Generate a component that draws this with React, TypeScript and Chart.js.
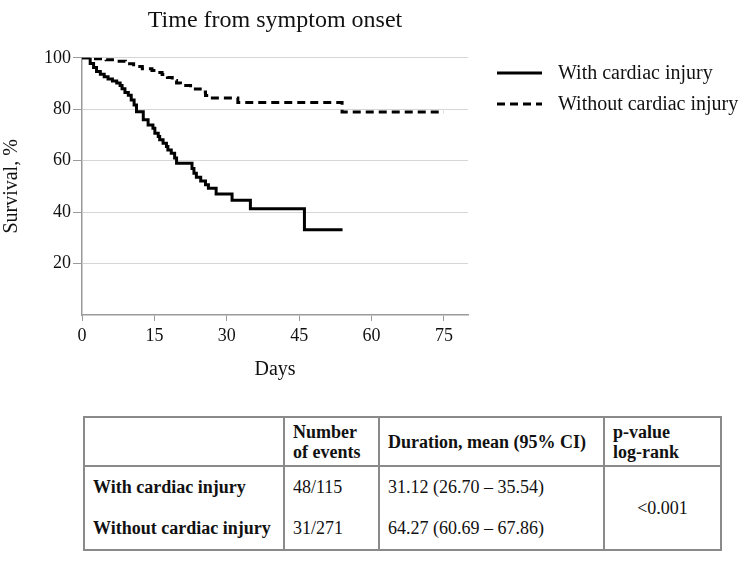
import React, { useEffect, useRef } from "react";
import { Chart, registerables } from "chart.js";

Chart.register(...registerables);

const FONT = "'Liberation Serif', 'Times New Roman', serif";

const titleText = "Time from symptom onset";
const xAxisTitle = "Days";
const yAxisTitle = "Survival, %";
const xTickValues = [0, 15, 30, 45, 60, 75];
const yTickValues = [20, 40, 60, 80, 100];

const seriesLabels = ["With cardiac injury", "Without cardiac injury"];

const withInjuryDays = [
  0, 1.7, 2.4, 3.0, 3.8, 4.6, 5.4, 6.3, 7.2, 7.9, 8.3, 8.9, 9.6, 10.2, 10.8, 11.3,
  12.7, 13.7, 14.7, 15.1, 15.8, 16.1, 16.8, 17.5, 17.8, 18.5, 19.2, 19.6, 22.8, 23.2,
  23.7, 24.6, 25.6, 26.2, 27.8, 31.1, 34.9, 46.1, 54.0,
];
const withInjurySurvival = [
  100, 97.8, 96.2, 94.7, 93.6, 92.6, 91.8, 91.0, 90.2, 89.2, 88.0, 86.5, 85.4, 83.6, 81.6, 79.0,
  75.9, 73.9, 72.6, 70.7, 69.4, 68.1, 66.8, 65.5, 64.2, 62.9, 61.0, 59.0, 57.0, 55.1,
  53.6, 52.1, 50.6, 49.3, 47.0, 44.6, 41.3, 33.1, 33.1,
];

const withoutInjuryDays = [
  0, 2.0, 5.0, 7.0, 9.0, 10.7, 12.5, 14.5, 15.5, 16.6, 17.7, 18.7, 19.6, 20.4, 22.5,
  24.5, 25.6, 26.5, 32.3, 53.9, 75.0,
];
const withoutInjurySurvival = [
  100, 99.6, 99.2, 98.7, 97.7, 96.6, 95.7, 95.1, 94.3, 93.5, 92.3, 91.2, 90.2, 89.2, 87.9,
  86.7, 85.3, 84.4, 82.6, 78.9, 78.9,
];

const tableHeaderLines = [[""], ["Number", "of events"], ["Duration, mean (95% CI)"], ["p-value", "log-rank"]];
const tableRowLabels = ["With cardiac injury", "Without cardiac injury"];
const tableEvents = ["48/115", "31/271"];
const tableDurations = ["31.12 (26.70 – 35.54)", "64.27 (60.69 – 67.86)"];
const tablePValue = "<0.001";

const legendPlugin = {
  id: "kmLegend",
  afterDraw(chart: any) {
    const ctx = chart.ctx;
    const area = chart.chartArea;
    ctx.save();
    chart.data.datasets.forEach((ds: any, i: number) => {
      const y = 73 + i * 31;
      const x0 = area.right + 29;
      ctx.beginPath();
      ctx.setLineDash(ds.borderDash || []);
      ctx.lineWidth = ds.borderWidth;
      ctx.strokeStyle = ds.borderColor;
      ctx.moveTo(x0, y);
      ctx.lineTo(x0 + 45, y);
      ctx.stroke();
      ctx.setLineDash([]);
      ctx.fillStyle = "#111";
      ctx.font = `20px ${FONT}`;
      ctx.textBaseline = "middle";
      ctx.textAlign = "left";
      ctx.fillText(ds.label, x0 + 61, y + 1);
    });
    ctx.restore();
  },
};

function toPoints(xs: number[], ys: number[]) {
  return xs.map((x, i) => ({ x, y: ys[i] }));
}

export default function App() {
  const canvasRef = useRef<HTMLCanvasElement | null>(null);

  useEffect(() => {
    if (!canvasRef.current) return;
    const axisColor = "#9a9a9a";
    const chart = new Chart(canvasRef.current, {
      type: "line",
      data: {
        datasets: [
          {
            label: seriesLabels[0],
            data: toPoints(withInjuryDays, withInjurySurvival),
            borderColor: "#000",
            borderWidth: 3,
            pointRadius: 0,
            fill: false,
            stepped: "before",
          },
          {
            label: seriesLabels[1],
            data: toPoints(withoutInjuryDays, withoutInjurySurvival),
            borderColor: "#000",
            borderWidth: 3,
            borderDash: [8, 5],
            pointRadius: 0,
            fill: false,
            stepped: "before",
          },
        ],
      },
      options: {
        animation: false,
        responsive: true,
        maintainAspectRatio: false,
        layout: { padding: { left: 0, right: 281, top: 0, bottom: 10 } },
        plugins: {
          legend: { display: false },
          tooltip: { enabled: false },
          title: {
            display: true,
            text: titleText,
            fullSize: false,
            color: "#111",
            font: { family: FONT, size: 24, weight: "normal" },
            padding: { top: 6, bottom: 23 },
          },
        },
        scales: {
          x: {
            type: "linear",
            min: 0,
            max: 80,
            afterBuildTicks: (s: any) => {
              s.ticks = xTickValues.map((v) => ({ value: v }));
            },
            afterFit: (s: any) => {
              s.height = 75;
            },
            border: { color: axisColor, width: 1.5 },
            grid: { drawOnChartArea: false, drawTicks: true, tickLength: 6, tickColor: axisColor },
            ticks: { color: "#111", font: { family: FONT, size: 18 }, padding: 4, maxRotation: 0 },
            title: {
              display: true,
              text: xAxisTitle,
              color: "#111",
              font: { family: FONT, size: 20 },
              padding: { top: 0, bottom: 8 },
            },
          },
          y: {
            type: "linear",
            min: 0,
            max: 100,
            afterBuildTicks: (s: any) => {
              s.ticks = yTickValues.map((v) => ({ value: v }));
            },
            afterFit: (s: any) => {
              s.width = 82;
            },
            border: { color: axisColor, width: 1.5 },
            grid: { color: "#d6d6d6", lineWidth: 1, drawTicks: true, tickLength: 9, tickColor: axisColor },
            ticks: { color: "#111", font: { family: FONT, size: 18 }, padding: 2 },
            title: {
              display: true,
              text: yAxisTitle,
              color: "#111",
              font: { family: FONT, size: 20 },
              padding: { top: 0, bottom: 0 },
            },
          },
        },
      },
      plugins: [legendPlugin],
    });
    return () => chart.destroy();
  }, []);

  const border = "2px solid #8a8a8a";
  const cellBase: React.CSSProperties = {
    borderLeft: border,
    borderRight: border,
    padding: "0 8px",
    textAlign: "left",
    verticalAlign: "middle",
    whiteSpace: "nowrap",
  };
  const colWidths = [200, 95, 225, 117];

  return (
    <div style={{ position: "absolute", left: 0, top: 0, width: 749, height: 561, background: "#fff" }}>
      <div style={{ position: "absolute", left: 0, top: 0, width: 749, height: 400 }}>
        <canvas ref={canvasRef} />
      </div>
      <table
        style={{
          position: "absolute",
          left: 83,
          top: 416,
          width: 637,
          borderCollapse: "collapse",
          tableLayout: "fixed",
          fontFamily: FONT,
          fontSize: 18,
          color: "#111",
          border,
        }}
      >
        <colgroup>
          {colWidths.map((w, i) => (
            <col key={i} style={{ width: w }} />
          ))}
        </colgroup>
        <thead>
          <tr style={{ height: 49 }}>
            {tableHeaderLines.map((lines, i) => (
              <th key={i} style={{ ...cellBase, border, fontWeight: "bold", lineHeight: "20px" }}>
                {lines.map((l, j) => (
                  <React.Fragment key={j}>
                    {j > 0 && <br />}
                    {l}
                  </React.Fragment>
                ))}
              </th>
            ))}
          </tr>
        </thead>
        <tbody>
          {tableRowLabels.map((label, r) => (
            <tr key={r} style={{ height: 42 }}>
              <td style={{ ...cellBase, fontWeight: "bold", borderBottom: r === 1 ? border : "none" }}>{label}</td>
              <td style={{ ...cellBase, borderBottom: r === 1 ? border : "none" }}>{tableEvents[r]}</td>
              <td style={{ ...cellBase, borderBottom: r === 1 ? border : "none" }}>{tableDurations[r]}</td>
              {r === 0 && (
                <td rowSpan={2} style={{ ...cellBase, textAlign: "center", borderBottom: border }}>
                  {tablePValue}
                </td>
              )}
            </tr>
          ))}
        </tbody>
      </table>
    </div>
  );
}
